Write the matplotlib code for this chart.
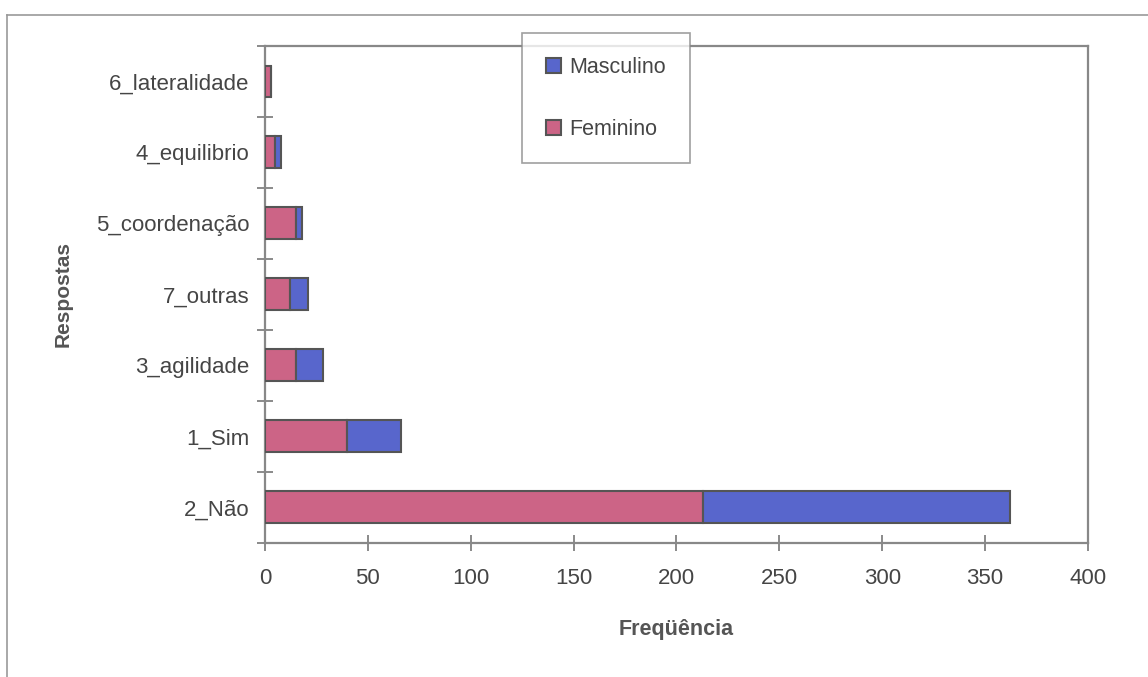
import numpy as np
import matplotlib.pyplot as plt
from matplotlib.lines import Line2D

respostas = ['2_Não', '1_Sim', '3_agilidade', '7_outras', '5_coordenação', '4_equilibrio', '6_lateralidade']
feminino = [213, 40, 15, 12, 15, 5, 3]
masculino = [149, 26, 13, 9, 3, 3, 0]

plt.rcParams['font.family'] = ['Liberation Sans', 'DejaVu Sans']
txt = '#454545'
rosa = '#cc6486'
azul = '#5866cc'
borda = '#555555'

fig = plt.figure(figsize=(11.48, 6.77), dpi=100)
ax = fig.add_axes([0.2308, 0.1984, 0.7169, 0.7336])

y = np.arange(len(respostas))
fem = np.array(feminino)
masc = np.array(masculino)
ax.barh(y, fem, height=0.45, color=rosa, edgecolor=borda, linewidth=1.5, label='Feminino', zorder=3)
ax.barh(y, masc, left=fem, height=0.45, color=azul, edgecolor=borda, linewidth=1.5, label='Masculino', zorder=3)

ax.set_xlim(0, 400)
ax.set_ylim(-0.5, len(respostas) - 0.5)
ax.set_xticks(range(0, 401, 50))
ax.set_yticks(y)
ax.set_yticklabels(respostas)
ax.set_yticks(np.arange(-0.5, len(respostas), 1), minor=True)
ax.tick_params(axis='y', which='major', length=0, pad=11, labelsize=16, labelcolor=txt)
ax.tick_params(axis='y', which='minor', direction='inout', length=12, width=1.2, color='#777777')
ax.tick_params(axis='x', direction='inout', length=12, width=1.2, color='#777777', pad=12, labelsize=16, labelcolor=txt)

for s in ax.spines.values():
    s.set_color('#888888')
    s.set_linewidth(1.6)

ax.set_xlabel('Freqüência', fontsize=15.5, fontweight='bold', color='#555555', labelpad=22)
ax.set_ylabel('Respostas', fontsize=15, fontweight='bold', color='#555555', labelpad=17)

# legenda com Masculino em cima
h, l = ax.get_legend_handles_labels()
leg = fig.legend(h[::-1], l[::-1], loc='upper left', bbox_to_anchor=(522 / 1148, 1 - 33 / 677),
                 fontsize=15.5, frameon=True, fancybox=False, handlelength=0.7, handleheight=0.7,
                 handletextpad=0.4, labelspacing=1.9, borderpad=1.1, borderaxespad=0)
leg.get_frame().set_edgecolor('#888888')
leg.get_frame().set_linewidth(1.2)
for t in leg.get_texts():
    t.set_color(txt)

# moldura externa do grafico
fig.add_artist(Line2D([7 / 1148, 1.0], [1 - 15 / 677, 1 - 15 / 677], color='#999999', linewidth=1.2))
fig.add_artist(Line2D([7 / 1148, 7 / 1148], [0.0, 1 - 15 / 677], color='#999999', linewidth=1.2))

fig.savefig('out.png', dpi=100)
